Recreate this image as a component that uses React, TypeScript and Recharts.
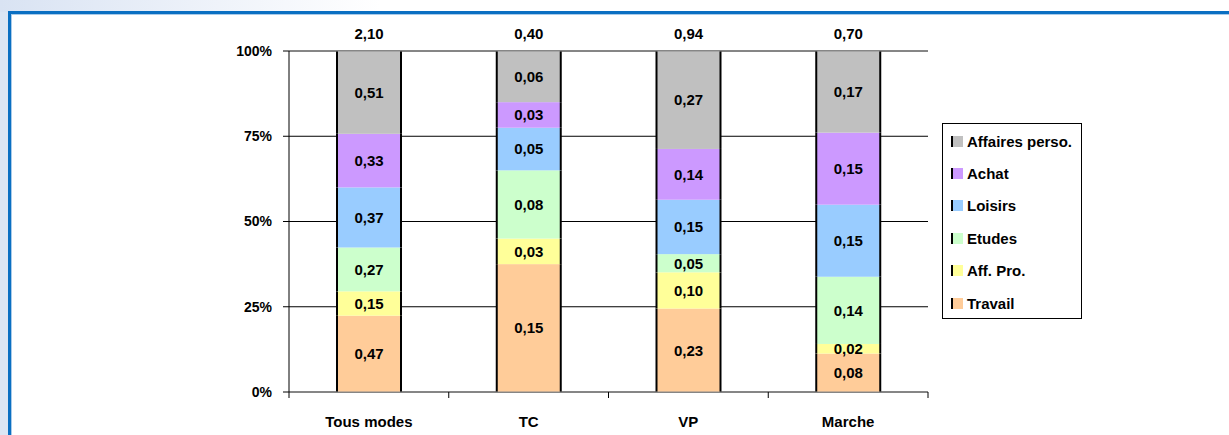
import React from "react";
import { BarChart, Bar, XAxis, YAxis, CartesianGrid, LabelList, ReferenceLine } from "recharts";

// Trips per person per day, split by purpose, for each transport mode
const modes = ["Tous modes", "TC", "VP", "Marche"];
const totals = [2.1, 0.4, 0.94, 0.7];
const travail = [0.47, 0.15, 0.23, 0.08];
const affPro = [0.15, 0.03, 0.1, 0.02];
const etudes = [0.27, 0.08, 0.05, 0.14];
const loisirs = [0.37, 0.05, 0.15, 0.15];
const achat = [0.33, 0.03, 0.14, 0.15];
const affairesPerso = [0.51, 0.06, 0.27, 0.17];
const percentTicks = [0, 0.25, 0.5, 0.75, 1];

// Stack order, bottom to top
const series = [
  { key: "travail", name: "Travail", color: "#ffcc99", values: travail },
  { key: "affPro", name: "Aff. Pro.", color: "#ffff99", values: affPro },
  { key: "etudes", name: "Etudes", color: "#ccffcc", values: etudes },
  { key: "loisirs", name: "Loisirs", color: "#99ccff", values: loisirs },
  { key: "achat", name: "Achat", color: "#cc99ff", values: achat },
  { key: "affairesPerso", name: "Affaires perso.", color: "#c0c0c0", values: affairesPerso },
];

const data = modes.map((mode, i) => {
  const row: Record<string, string | number> = { mode, total: totals[i] };
  series.forEach((s) => {
    row[s.key] = s.values[i];
  });
  return row;
});

const CHART_W = 1229;
const CHART_H = 435;
const Y_AXIS_W = 289;
const X_AXIS_H = 43;
const MARGIN = { top: 51, right: 301, bottom: 0, left: 0 };
const PLOT_W = CHART_W - Y_AXIS_W - MARGIN.left - MARGIN.right;
const PLOT_BOTTOM = CHART_H - X_AXIS_H - MARGIN.bottom;
const BAND = PLOT_W / modes.length;
const FONT = "'Liberation Sans', Arial, sans-serif";

const fmt = (v: unknown) => Number(v).toFixed(2).replace(".", ",");

// Filled segment with the heavy black side edges of the column
const Segment = (props: any) => {
  const { x, y, width, height, fill } = props;
  if (!height || height <= 0) return null;
  return (
    <g>
      <rect x={x} y={y} width={width} height={height} fill={fill} />
      <line x1={x} y1={y} x2={x} y2={y + height} stroke="#000" strokeWidth={2} />
      <line x1={x + width} y1={y} x2={x + width} y2={y + height} stroke="#000" strokeWidth={2} />
    </g>
  );
};

// Category label plus tick marks placed between categories
const CategoryTick = (props: any) => {
  const { x, payload, index } = props;
  const left = x - BAND / 2;
  const right = x + BAND / 2;
  const axisY = PLOT_BOTTOM;
  return (
    <g>
      <line x1={left} y1={axisY} x2={left} y2={axisY + 6} stroke="#000" strokeWidth={1} />
      {index === modes.length - 1 && (
        <line x1={right} y1={axisY} x2={right} y2={axisY + 6} stroke="#000" strokeWidth={1} />
      )}
      <text
        x={x}
        y={axisY + 35}
        textAnchor="middle"
        fontFamily={FONT}
        fontWeight="bold"
        fontSize={15}
        fill="#000"
      >
        {payload.value}
      </text>
    </g>
  );
};

const Legend = () => (
  <div
    style={{
      position: "absolute",
      left: 942,
      top: 123,
      width: 140,
      height: 196,
      boxSizing: "border-box",
      border: "1px solid #000",
      background: "#fff",
      fontFamily: FONT,
      fontWeight: "bold",
      fontSize: 15,
      color: "#000",
    }}
  >
    {[...series].reverse().map((s, i) => (
      <div
        key={s.key}
        style={{
          position: "absolute",
          left: 8,
          top: 17 + i * 32.4 - 9,
          height: 18,
          display: "flex",
          alignItems: "center",
          whiteSpace: "nowrap",
        }}
      >
        <span
          style={{
            display: "inline-block",
            width: 10,
            height: 11,
            background: s.color,
            borderLeft: "2px solid #000",
            marginRight: 4,
          }}
        />
        <span>{s.name}</span>
      </div>
    ))}
  </div>
);

export default function App() {
  return (
    <div
      style={{
        position: "absolute",
        left: 0,
        top: 0,
        width: CHART_W,
        height: CHART_H,
        overflow: "hidden",
        background: "#dce6f4",
      }}
    >
      <div
        style={{
          position: "absolute",
          left: 0,
          top: 0,
          width: CHART_W,
          height: 12,
          background: "linear-gradient(to right, #d9e3f3 0px, #ffffff 380px)",
        }}
      />
      <div
        style={{
          position: "absolute",
          left: 8,
          top: 11,
          width: CHART_W,
          height: CHART_H,
          boxSizing: "border-box",
          borderTop: "3px solid #0a6fc2",
          borderLeft: "3px solid #0a6fc2",
          background: "#fff",
          boxShadow: "inset 1px 1px 0 #a9cbe9",
        }}
      />
      <div style={{ position: "absolute", left: 0, top: 0 }}>
        <BarChart
          width={CHART_W}
          height={CHART_H}
          data={data}
          stackOffset="expand"
          margin={MARGIN}
          barSize={64}
        >
          <CartesianGrid horizontal vertical={false} stroke="#000" strokeWidth={1} />
          <ReferenceLine y={1} stroke="#8c8c8c" strokeWidth={1} />
          <XAxis
            dataKey="mode"
            height={X_AXIS_H}
            axisLine={{ stroke: "#8c8c8c", strokeWidth: 1 }}
            tickLine={false}
            tick={<CategoryTick />}
            interval={0}
          />
          <YAxis
            type="number"
            domain={[0, 1]}
            ticks={percentTicks}
            width={Y_AXIS_W}
            axisLine={{ stroke: "#000", strokeWidth: 1 }}
            tickLine={{ stroke: "#000", strokeWidth: 1 }}
            tickSize={6}
            tickMargin={11}
            tickFormatter={(v: number) => `${Math.round(v * 100)}%`}
            tick={{ fill: "#000", fontFamily: FONT, fontWeight: "bold", fontSize: 14 }}
          />
          {series.map((s, i) => (
            <Bar
              key={s.key}
              dataKey={s.key}
              name={s.name}
              stackId="modes"
              fill={s.color}
              shape={<Segment />}
              isAnimationActive={false}
            >
              <LabelList
                dataKey={s.key}
                position="center"
                formatter={fmt}
                fill="#000"
                fontFamily={FONT}
                fontWeight="bold"
                fontSize={15}
              />
              {i === series.length - 1 && (
                <LabelList
                  dataKey="total"
                  position="top"
                  offset={12}
                  formatter={fmt}
                  fill="#000"
                  fontFamily={FONT}
                  fontWeight="bold"
                  fontSize={15}
                />
              )}
            </Bar>
          ))}
        </BarChart>
      </div>
      <Legend />
    </div>
  );
}
